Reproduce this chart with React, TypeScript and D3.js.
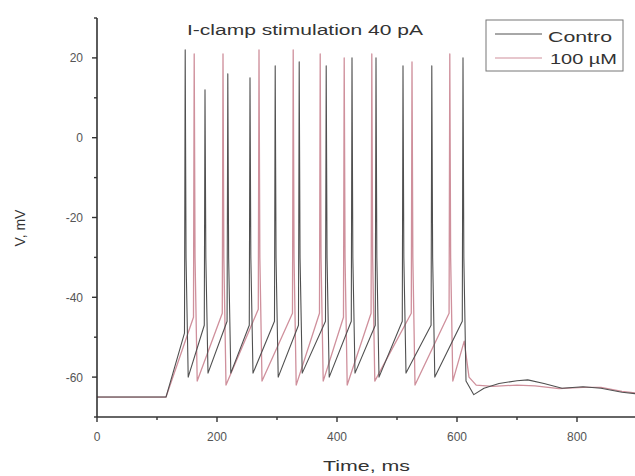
import React from "react";
import * as d3 from "d3";

// ---- data ----
const xTicks = [0, 200, 400, 600, 800];
const xMinor = [100, 300, 500, 700];
const yTicks = [-60, -40, -20, 0, 20];
const yMinor = [-70, -50, -30, -10, 10, 30];

const restStart = [0, -65];
const stimOn = [115, -65];

// Control trace
const ctrlSpikeTimes = [147, 180, 218, 255, 297, 337, 382, 425, 465, 510, 558, 610];
const ctrlPeaks = [22, 12, 16, 15, 18, 19, 18, 20, 20, 18, 18, 20];
const ctrlThresh = [-49, -47, -46, -47, -46, -47, -46, -46, -47, -46, -47, -46];
const ctrlTrough = [-60, -59, -59, -59, -60, -59, -60, -59, -60, -59, -60, -61];
const ctrlPostTimes = [628, 645, 670, 700, 718, 745, 775, 810, 840, 875, 900];
const ctrlPostV = [-64.4, -62.8, -61.6, -60.9, -60.7, -61.6, -62.8, -62.4, -62.8, -63.8, -64.2];

// 100 µM trace
const drugSpikeTimes = [162, 210, 270, 327, 372, 412, 458, 525, 588];
const drugPeaks = [21, 21, 22, 22, 21, 20, 21, 19, 21];
const drugThresh = [-45, -44, -43, -44, -44, -45, -44, -44, -44];
const drugTrough = [-61, -62, -61, -62, -61, -62, -61, -62, -61];
const drugPostTimes = [612, 620, 632, 660, 700, 730, 770, 810, 840, 875, 900];
const drugPostV = [-51, -60, -62, -62.3, -62, -62.2, -62.9, -62.6, -62.6, -63.6, -64];

const W = 635, H = 476;
const x = d3.scaleLinear().domain([0, 900]).range([97, 637]);
const y = d3.scaleLinear().domain([-70, 30]).range([417, 18]);

function buildTrace(times: number[], peaks: number[], thr: number[], tr: number[], postT: number[], postV: number[]) {
  const pts: [number, number][] = [restStart as [number, number], stimOn as [number, number]];
  times.forEach((t, i) => {
    pts.push([t - 1.2, thr[i]]);
    pts.push([t, peaks[i]]);
    pts.push([t + 1.4, -30]);
    pts.push([t + 5, tr[i]]);
  });
  postT.forEach((t, i) => pts.push([t, postV[i]]));
  return pts;
}

const ctrlPts = buildTrace(ctrlSpikeTimes, ctrlPeaks, ctrlThresh, ctrlTrough, ctrlPostTimes, ctrlPostV);
const drugPts = buildTrace(drugSpikeTimes, drugPeaks, drugThresh, drugTrough, drugPostTimes, drugPostV);

const line = d3
  .line<[number, number]>()
  .x((d) => x(d[0]))
  .y((d) => y(d[1]))
  .curve(d3.curveLinear);

const CTRL = "#505050";
const DRUG = "#cf909c";
const AX = "#333";
const FONT = "'Liberation Sans', Arial, sans-serif";

export default function App() {
  return (
    <svg
      width={W}
      height={H}
      style={{ position: "absolute", left: 0, top: 0, background: "#fff" }}
      fontFamily={FONT}
    >
      {/* traces */}
      <path d={line(drugPts) || ""} fill="none" stroke={DRUG} strokeWidth={1.3} strokeLinejoin="round" />
      <path d={line(ctrlPts) || ""} fill="none" stroke={CTRL} strokeWidth={1.1} strokeLinejoin="round" />

      {/* y axis */}
      <line x1={97} x2={97} y1={y(30)} y2={y(-70)} stroke={AX} strokeWidth={1.6} />
      {yTicks.map((v) => (
        <g key={"y" + v}>
          <line x1={92} x2={97} y1={y(v)} y2={y(v)} stroke={AX} strokeWidth={1.4} />
          <text x={83} y={y(v) + 4.5} textAnchor="end" fontSize={12} fill="#555">
            {v}
          </text>
        </g>
      ))}
      {yMinor.map((v) => (
        <line key={"ym" + v} x1={94} x2={97} y1={y(v)} y2={y(v)} stroke={AX} strokeWidth={1.4} />
      ))}

      {/* x axis */}
      <line x1={97} x2={W} y1={y(-70)} y2={y(-70)} stroke={AX} strokeWidth={1.6} />
      {xTicks.map((v) => (
        <g key={"x" + v}>
          <line x1={x(v)} x2={x(v)} y1={y(-70)} y2={y(-70) + 5} stroke={AX} strokeWidth={1.4} />
          <text x={x(v)} y={y(-70) + 24} textAnchor="middle" fontSize={12} fill="#555">
            {v}
          </text>
        </g>
      ))}
      {xMinor.map((v) => (
        <line key={"xm" + v} x1={x(v)} x2={x(v)} y1={y(-70)} y2={y(-70) + 3} stroke={AX} strokeWidth={1.4} />
      ))}

      {/* axis titles */}
      <text x={323} y={471} fontSize={15} fill="#333" textLength={87} lengthAdjust="spacingAndGlyphs">
        Time, ms
      </text>
      <text
        transform={`translate(25, 228) rotate(-90)`}
        textAnchor="middle"
        fontSize={14}
        fill="#333"
      >
        V, mV
      </text>

      {/* title */}
      <text x={187} y={35} fontSize={14} fill="#333" textLength={236} lengthAdjust="spacingAndGlyphs">
        I-clamp stimulation 40 pA
      </text>

      {/* legend */}
      <rect x={486} y={20} width={137} height={51} fill="#fff" stroke="#777" strokeWidth={1} />
      <line x1={495} x2={542} y1={34} y2={34} stroke={CTRL} strokeWidth={1} />
      <text x={548} y={42} fontSize={15} fill="#333" textLength={64} lengthAdjust="spacingAndGlyphs">
        Contro
      </text>
      <line x1={495} x2={542} y1={58} y2={58} stroke={DRUG} strokeWidth={1.2} />
      <text x={550} y={64} fontSize={15} fill="#333" textLength={67} lengthAdjust="spacingAndGlyphs">
        100 µM
      </text>
    </svg>
  );
}
